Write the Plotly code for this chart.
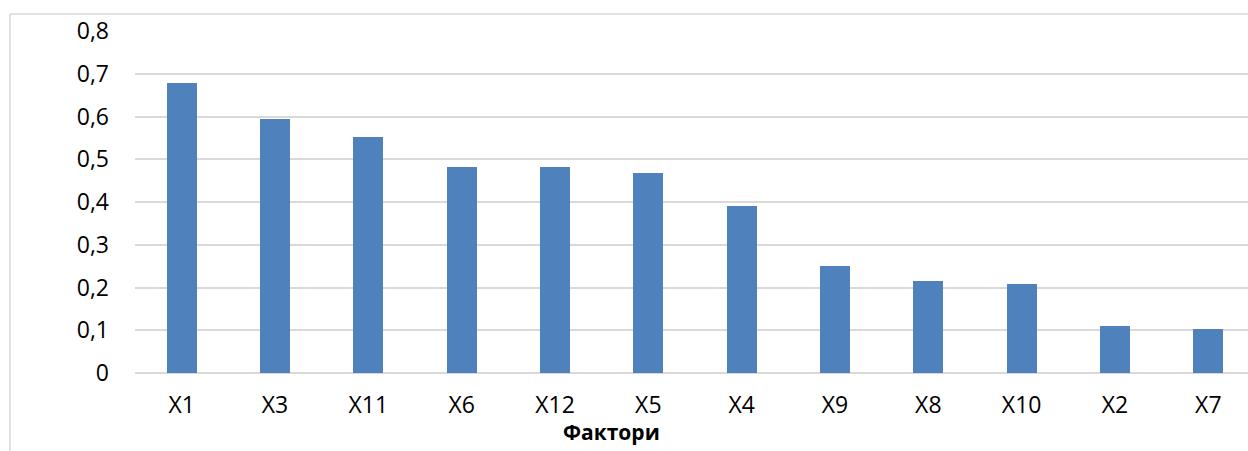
import plotly.graph_objects as go

# Factor importance values, sorted in descending order
factors = ["X1", "X3", "X11", "X6", "X12", "X5", "X4", "X9", "X8", "X10", "X2", "X7"]
values = [0.679, 0.595, 0.553, 0.483, 0.483, 0.469, 0.391, 0.251, 0.216, 0.209, 0.111, 0.104]
y_ticks = [0, 0.1, 0.2, 0.3, 0.4, 0.5, 0.6, 0.7, 0.8]
y_tick_text = ["0", "0,1", "0,2", "0,3", "0,4", "0,5", "0,6", "0,7", "0,8"]
x_title = "Фактори"

FONT = "Open Sans"
GRID = "#d9d9d9"

fig = go.Figure(
    go.Bar(
        x=list(range(len(factors))),
        y=values,
        width=0.32,
        marker=dict(color="#4f81bd", line=dict(width=0)),
    )
)

fig.update_layout(
    width=1248,
    height=451,
    autosize=False,
    margin=dict(l=135, r=0, t=31, b=78),
    paper_bgcolor="white",
    plot_bgcolor="white",
    showlegend=False,
    font=dict(family=FONT, size=23, color="#000000"),
    bargap=0,
)

fig.update_xaxes(
    range=[-0.5, 11.425],
    tickmode="array",
    tickvals=list(range(len(factors))),
    ticktext=factors,
    showgrid=False,
    zeroline=False,
    showline=False,
    ticks="",
    ticklabelstandoff=16,
    tickfont=dict(family=FONT, size=23),
)

fig.update_yaxes(
    range=[0, 0.8],
    tickmode="array",
    tickvals=y_ticks,
    ticktext=y_tick_text,
    showgrid=True,
    gridcolor=GRID,
    gridwidth=1.5,
    zeroline=True,
    zerolinecolor=GRID,
    zerolinewidth=1.5,
    showline=False,
    ticks="",
    ticklabelstandoff=25,
    tickfont=dict(family=FONT, size=23),
)

# Axis title for the factors
fig.add_annotation(
    text=f"<b>{x_title}</b>",
    xref="paper", yref="paper",
    x=0.4277, y=-0.172,
    xanchor="center", yanchor="middle",
    showarrow=False,
    font=dict(family=FONT, size=21, color="#000000"),
)

# Chart area frame (top and left edges)
fig.add_shape(type="line", xref="paper", yref="paper",
              x0=-125 / 1113, x1=1.0, y0=(451 - 14 - 78) / 342, y1=(451 - 14 - 78) / 342,
              line=dict(color=GRID, width=1.5))
fig.add_shape(type="line", xref="paper", yref="paper",
              x0=-125 / 1113, x1=-125 / 1113, y0=(451 - 14 - 78) / 342, y1=-78 / 342,
              line=dict(color=GRID, width=1.5))

fig.write_html("out.html")
